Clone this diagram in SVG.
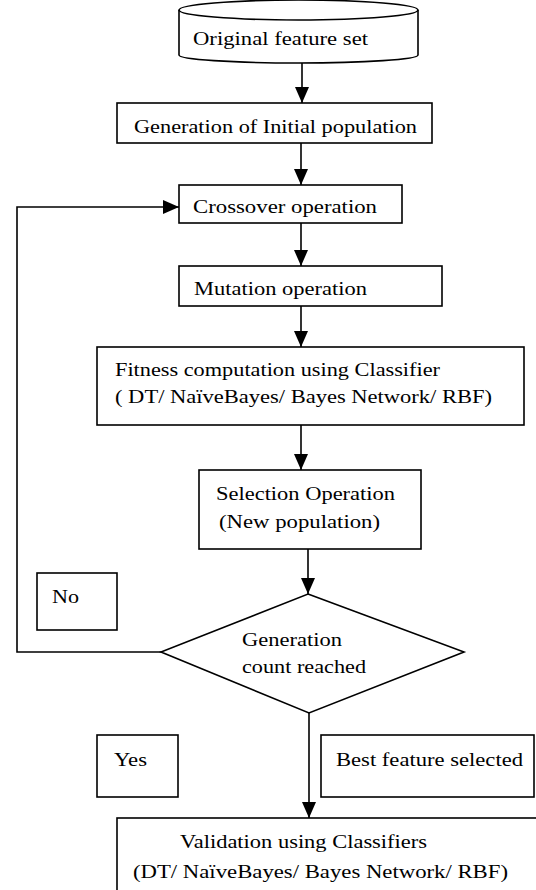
<svg xmlns="http://www.w3.org/2000/svg" width="536" height="890" viewBox="0 0 536 890">
<style>
.box{fill:#fff;stroke:#000;stroke-width:1.6}
.ln{fill:none;stroke:#000;stroke-width:1.6}
.t{font-family:'Liberation Serif','Times New Roman',serif;font-size:18px;fill:#000}
</style>
<defs>
<marker id="ah" viewBox="0 0 16 14" refX="16" refY="7" markerWidth="16" markerHeight="14" orient="auto" markerUnits="userSpaceOnUse">
<path d="M0,0 L16,7 L0,14 z" fill="#000"/>
</marker>
</defs>
<rect width="536" height="890" fill="#fff"/>
<g id="connectors">
<line class="ln" x1="302" y1="63" x2="302" y2="103" marker-end="url(#ah)"/>
<line class="ln" x1="301" y1="143" x2="301" y2="185" marker-end="url(#ah)"/>
<line class="ln" x1="301" y1="223" x2="301" y2="266" marker-end="url(#ah)"/>
<line class="ln" x1="301" y1="306" x2="301" y2="347" marker-end="url(#ah)"/>
<line class="ln" x1="301" y1="425" x2="301" y2="470" marker-end="url(#ah)"/>
<line class="ln" x1="308" y1="549" x2="308" y2="594" marker-end="url(#ah)"/>
<line class="ln" x1="309" y1="713" x2="309" y2="818" marker-end="url(#ah)"/>
<path class="ln" d="M161,652 H17 V207 H179" marker-end="url(#ah)"/>
</g>
<g id="original">
<path class="box" d="M179,10 V55 A119.5,8 0 0 0 418,55 V10"/>
<ellipse class="box" cx="298.5" cy="10" rx="119.5" ry="10"/>
<text class="t" x="193" y="45" textLength="175" lengthAdjust="spacingAndGlyphs">Original feature set</text>
</g>
<g id="initpop">
<rect class="box" x="117" y="103" width="315" height="40"/>
<text class="t" x="134" y="133" textLength="283" lengthAdjust="spacingAndGlyphs">Generation of Initial population</text>
</g>
<g id="crossover">
<rect class="box" x="179" y="185" width="223" height="38"/>
<text class="t" x="193" y="213" textLength="184" lengthAdjust="spacingAndGlyphs">Crossover operation</text>
</g>
<g id="mutation">
<rect class="box" x="179" y="266" width="263" height="40"/>
<text class="t" x="194" y="295" textLength="173" lengthAdjust="spacingAndGlyphs">Mutation operation</text>
</g>
<g id="fitness">
<rect class="box" x="97" y="347" width="427" height="78"/>
<text class="t" x="115" y="376" textLength="325" lengthAdjust="spacingAndGlyphs">Fitness computation using Classifier</text>
<text class="t" x="115" y="403" textLength="377" lengthAdjust="spacingAndGlyphs">( DT/ NaïveBayes/  Bayes Network/ RBF)</text>
</g>
<g id="selection">
<rect class="box" x="199" y="470" width="222" height="79"/>
<text class="t" x="216" y="500" textLength="179" lengthAdjust="spacingAndGlyphs">Selection Operation</text>
<text class="t" x="219" y="528" textLength="161" lengthAdjust="spacingAndGlyphs">(New population)</text>
</g>
<g id="no">
<rect class="box" x="37" y="573" width="80" height="57"/>
<text class="t" x="52" y="603" textLength="27" lengthAdjust="spacingAndGlyphs">No</text>
</g>
<g id="decision">
<polygon class="box" points="308,594 464,652 309,713 161,652"/>
<text class="t" x="242" y="646" textLength="100" lengthAdjust="spacingAndGlyphs">Generation</text>
<text class="t" x="242" y="673" textLength="124" lengthAdjust="spacingAndGlyphs">count reached</text>
</g>
<g id="yes">
<rect class="box" x="97" y="735" width="81" height="62"/>
<text class="t" x="114" y="766" textLength="33" lengthAdjust="spacingAndGlyphs">Yes</text>
</g>
<g id="best">
<rect class="box" x="321" y="735" width="213" height="62"/>
<text class="t" x="336" y="766" textLength="187" lengthAdjust="spacingAndGlyphs">Best feature selected</text>
</g>
<g id="validation">
<rect class="box" x="117" y="818" width="430" height="90"/>
<text class="t" x="180" y="848" textLength="247" lengthAdjust="spacingAndGlyphs">Validation using Classifiers</text>
<text class="t" x="133" y="878" textLength="375" lengthAdjust="spacingAndGlyphs">(DT/ NaïveBayes/  Bayes Network/ RBF)</text>
</g>
</svg>
